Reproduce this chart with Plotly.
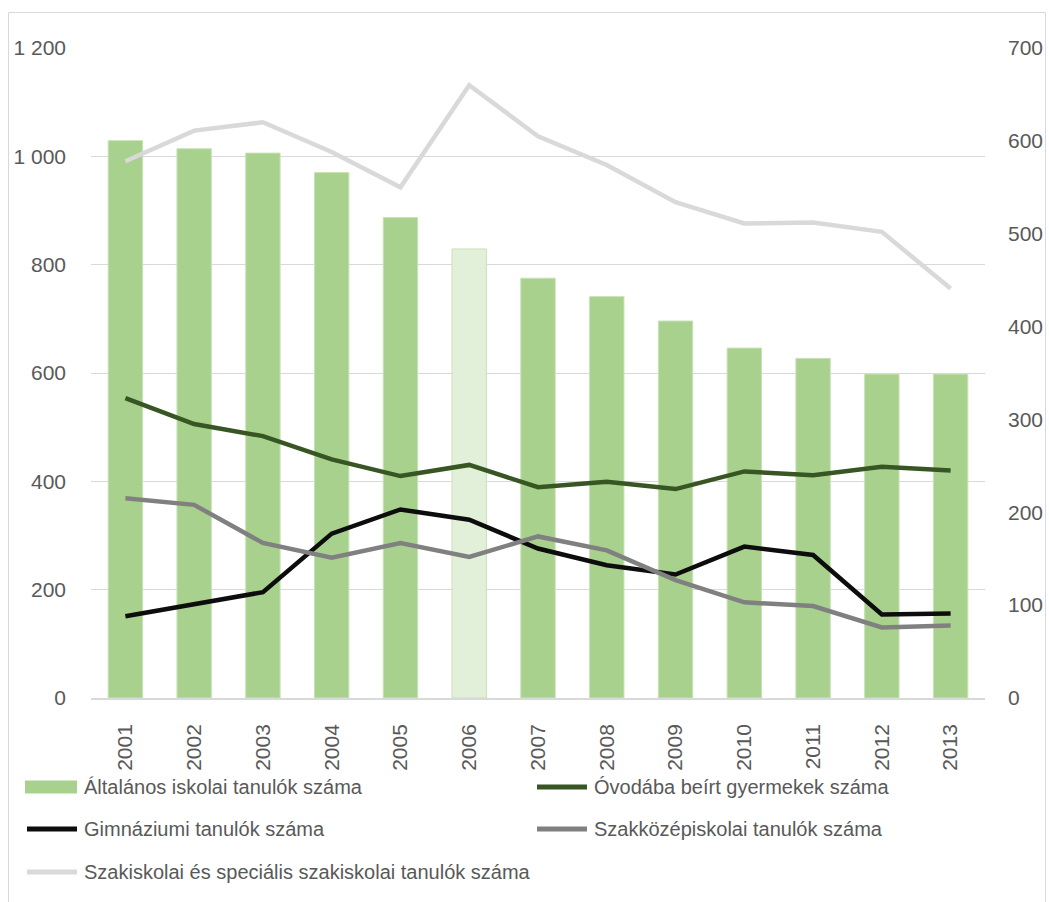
import plotly.graph_objects as go

years = ["2001", "2002", "2003", "2004", "2005", "2006", "2007",
         "2008", "2009", "2010", "2011", "2012", "2013"]

altalanos = [1029, 1014, 1006, 970, 887, 829, 775, 741, 696, 646, 627, 598, 598]
ovoda = [323, 295, 282, 257, 239, 251, 227, 233, 225, 244, 240, 249, 245]
gimnazium = [88, 101, 114, 177, 203, 192, 161, 143, 133, 163, 154, 90, 91]
szakkozep = [215, 208, 167, 151, 167, 152, 174, 159, 127, 103, 99, 76, 78]
szakiskola = [578, 611, 620, 588, 550, 660, 605, 574, 534, 511, 512, 502, 441]

names = ["Általános iskolai tanulók száma",
         "Óvodába beírt gyermekek száma",
         "Gimnáziumi tanulók száma",
         "Szakközépiskolai tanulók száma",
         "Szakiskolai és speciális szakiskolai tanulók száma"]

left_ticks = [0, 200, 400, 600, 800, 1000, 1200]
left_ticklabels = ["0", "200", "400", "600", "800", "1 000", "1 200"]
right_ticks = [0, 100, 200, 300, 400, 500, 600, 700]

# styling
BAR = "#a9d18e"
BAR_LIGHT = "#e2efd9"
COL_OVODA = "#375623"
COL_GIMN = "#0d0d0d"
COL_SZAKK = "#808080"
COL_SZAKI = "#d9d9d9"
TXT = "#595959"
FONT = "Liberation Sans Narrow, Arial Narrow, Liberation Sans, Arial, sans-serif"
TICK_SIZE = 21
LEG_SIZE = 20

W, H = 1049, 902
L, R, T, B = 91, 64, 48, 204
PW, PH = W - L - R, H - T - B


def px2x(px):
    return (px - L) / PW


def py2y(py):
    return (H - B - py) / PH


bar_colors = [BAR_LIGHT if y == "2006" else BAR for y in years]

fig = go.Figure()
fig.add_trace(go.Bar(x=years, y=altalanos, name=names[0],
                     marker=dict(color=bar_colors, line=dict(color="#c8e2b6", width=1)),
                     yaxis="y", showlegend=False))

line_series = [(ovoda, COL_OVODA), (gimnazium, COL_GIMN),
               (szakkozep, COL_SZAKK), (szakiskola, COL_SZAKI)]
for (vals, col), nm in zip(line_series, names[1:]):
    fig.add_trace(go.Scatter(x=years, y=vals, name=nm, mode="lines",
                             line=dict(color=col, width=4.5),
                             yaxis="y2", showlegend=False))

fig.update_layout(
    width=W, height=H,
    margin=dict(l=L, r=R, t=T, b=B, autoexpand=False),
    paper_bgcolor="white", plot_bgcolor="white",
    font=dict(family=FONT, color=TXT, size=TICK_SIZE),
    bargap=0.5,
    xaxis=dict(type="category", tickangle=-90, showgrid=False,
               showline=True, linecolor="#d9d9d9", linewidth=1.5,
               ticks="", ticklabelstandoff=16,
               tickfont=dict(size=TICK_SIZE, color=TXT, family=FONT)),
    yaxis=dict(range=[0, 1200], tickvals=left_ticks, ticktext=left_ticklabels,
               showgrid=True, gridcolor="#d9d9d9", gridwidth=1,
               zeroline=False, showline=False, ticks="",
               ticklabelstandoff=24,
               tickfont=dict(size=TICK_SIZE, color=TXT, family=FONT)),
    yaxis2=dict(range=[0, 700], tickvals=right_ticks, overlaying="y", side="right",
                showgrid=False, zeroline=False, showline=False, ticks="",
                ticklabelstandoff=22,
                tickfont=dict(size=TICK_SIZE, color=TXT, family=FONT)),
    showlegend=False,
)

shapes = []
annotations = []

# outer frame
shapes.append(dict(type="rect", xref="paper", yref="paper",
                   x0=px2x(8.5), x1=px2x(1045.5), y0=py2y(906), y1=py2y(12.5),
                   line=dict(color="#d9d9d9", width=1), fillcolor="rgba(0,0,0,0)",
                   layer="below"))

# manual legend
legend_items = [
    (names[0], "bar", BAR, 25, 82, 787),
    (names[1], "line", COL_OVODA, 535, 592, 787),
    (names[2], "line", COL_GIMN, 25, 82, 829),
    (names[3], "line", COL_SZAKK, 535, 592, 829),
    (names[4], "line", COL_SZAKI, 25, 82, 872),
]
for nm, kind, col, sx, tx, cy in legend_items:
    if kind == "bar":
        shapes.append(dict(type="rect", xref="paper", yref="paper",
                           x0=px2x(sx), x1=px2x(sx + 52), y0=py2y(cy + 6.5), y1=py2y(cy - 6.5),
                           line=dict(width=0), fillcolor=col))
    else:
        shapes.append(dict(type="line", xref="paper", yref="paper",
                           x0=px2x(sx + 2), x1=px2x(sx + 52), y0=py2y(cy), y1=py2y(cy),
                           line=dict(color=col, width=5)))
    annotations.append(dict(xref="paper", yref="paper", x=px2x(tx), y=py2y(cy),
                            xanchor="left", yanchor="middle", showarrow=False,
                            text=nm, font=dict(size=LEG_SIZE, color=TXT, family=FONT)))

fig.update_layout(shapes=shapes, annotations=annotations)

fig.write_html("out.html", config={"displayModeBar": False},
               post_script="document.body.style.margin='0';")
